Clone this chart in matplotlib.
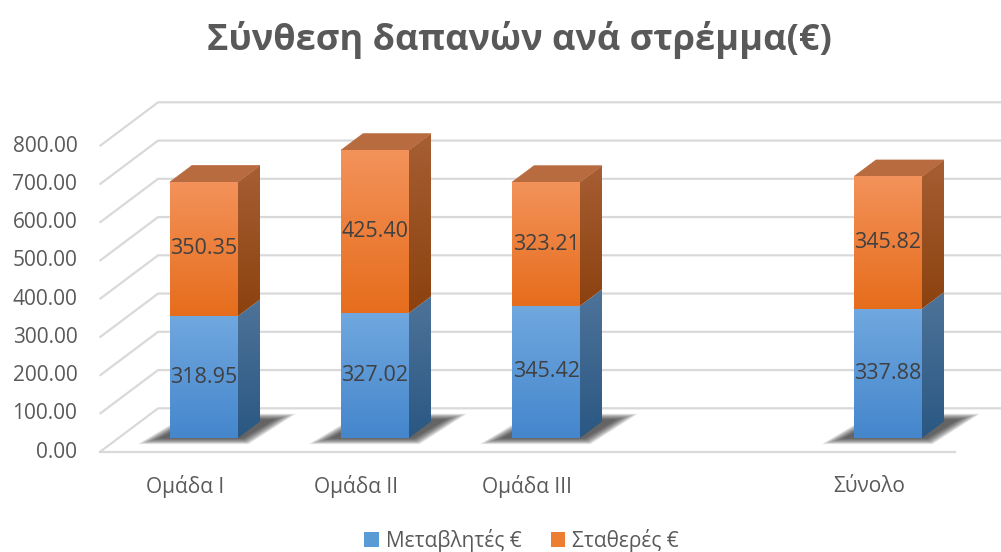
import numpy as np
import matplotlib
matplotlib.use("Agg")
import matplotlib.pyplot as plt
from matplotlib.patches import Polygon, Patch
from matplotlib.colors import LinearSegmentedColormap

# data
title = "Σύνθεση δαπανών ανά στρέμμα(€)"
categories = ["Ομάδα I", "Ομάδα II", "Ομάδα III", "", "Σύνολο"]
variable_costs = [318.95, 327.02, 345.42, np.nan, 337.88]
fixed_costs = [350.35, 425.40, 323.21, np.nan, 345.82]
series_names = ["Μεταβλητές €", "Σταθερές €"]
y_ticks = np.arange(0, 801, 100)

# layout (pixel geometry of the excel style oblique view)
W, H = 1001, 552
PX_CAT = 171.0      # pixels per category
X0_PX = 204.0       # pixel x of first bar centre (front face)
PX_VAL = 0.3825     # pixels per value unit
Y0_PX = 438.0       # pixel y of value 0 on bar front plane
DEPTH_DX = 22.0 / PX_CAT
DEPTH_DY = 16.5 / PX_VAL
D_FRONT = -0.86
D_BACK = 1.8
BAR_W = 68.0 / PX_CAT

FONT = ["Open Sans", "DejaVu Sans"]
TEXT_GREY = "#595959"
GRID = "#D9D9D9"

BLUE_FRONT = ("#70A8DF", "#4586CC")
BLUE_SIDE = ("#4E7399", "#2A5883")
ORANGE_FRONT = ("#F3925A", "#E66D1C")
ORANGE_SIDE = ("#A65E33", "#8C420F")
ORANGE_TOP = "#B96B40"

plt.rcParams["font.family"] = FONT


def proj(x, v, d):
    return x + d * DEPTH_DX, v + d * DEPTH_DY


def grad_fill(ax, patch, c_top, c_bot, z):
    patch.set_facecolor("none")
    patch.set_edgecolor("none")
    verts = patch.get_path().transformed(patch.get_patch_transform()).vertices
    xs, ys = verts[:, 0], verts[:, 1]
    cmap = LinearSegmentedColormap.from_list("g", [c_bot, c_top])
    im = ax.imshow(np.linspace(0, 1, 128).reshape(-1, 1), cmap=cmap, origin="lower",
                   extent=(xs.min(), xs.max(), ys.min(), ys.max()),
                   aspect="auto", interpolation="bilinear", zorder=z)
    im.set_clip_path(patch)


def face(ax, pts, c_top, c_bot, z):
    poly = Polygon(pts, closed=True)
    ax.add_patch(poly)
    grad_fill(ax, poly, c_top, c_bot, z)


fig = plt.figure(figsize=(W / 100, H / 100), dpi=100)
ax = fig.add_axes([0, 0, 1, 1])
ax.axis("off")

x_left, x_right = -0.5, len(categories) - 0.5

# back wall + floor grid
for v in y_ticks:
    p0 = proj(x_left, v, D_FRONT)
    p1 = proj(x_left, v, D_BACK)
    p2 = proj(x_right, v, D_BACK)
    ax.plot([p0[0], p1[0], p2[0]], [p0[1], p1[1], p2[1]], color=GRID, lw=1.6,
            zorder=1, solid_capstyle="butt")
f0 = proj(x_left, 0, D_FRONT)
f1 = proj(x_right, 0, D_FRONT)
ax.plot([f0[0], f1[0]], [f0[1], f1[1]], color=GRID, lw=1.6, zorder=1)

# tick labels
for v in y_ticks:
    ax.annotate(f"{v:.2f}", proj(x_left, v, D_FRONT), xytext=(-16, 0),
                textcoords="offset points", ha="right", va="center",
                fontsize=15, color=TEXT_GREY)

# category labels
for i, name in enumerate(categories):
    ax.annotate(name, proj(i, 0, D_FRONT), xytext=(0, -25),
                textcoords="offset points", ha="center", va="center",
                fontsize=15, color=TEXT_GREY)

x = np.arange(len(categories))
var = np.array(variable_costs)
fix = np.array(fixed_costs)

# soft shadows on floor
n_layers = 12
for xi in x[~np.isnan(var)]:
    xl, xr = xi - BAR_W / 2, xi + BAR_W / 2
    for k in range(n_layers):
        s = (n_layers - 1 - k) / (n_layers - 1)
        e = 0.08 * s
        ed = 0.35 * s
        pts = [proj(xl - 0.06 - e, 0, -0.02 - ed), proj(xr + 0.03 + e, 0, -0.02 - ed),
               proj(xr + 0.07 + e, 0, 1.12 + ed), proj(xl + 0.0 - e, 0, 1.12 + ed)]
        ax.add_patch(Polygon(pts, closed=True, facecolor="#262626", edgecolor="none",
                             alpha=0.095, zorder=2))

# bars
front_var = ax.bar(x, var, BAR_W, bottom=0, zorder=5)
front_fix = ax.bar(x, fix, BAR_W, bottom=var, zorder=5)
for i in x[~np.isnan(var)]:
    xr = i + BAR_W / 2
    xl = i - BAR_W / 2
    b0, b1, b2 = 0, var[i], var[i] + fix[i]
    face(ax, [proj(xr, b0, 0), proj(xr, b1, 0), proj(xr, b1, 1), proj(xr, b0, 1)],
         BLUE_SIDE[0], BLUE_SIDE[1], 4)
    face(ax, [proj(xr, b1, 0), proj(xr, b2, 0), proj(xr, b2, 1), proj(xr, b1, 1)],
         ORANGE_SIDE[0], ORANGE_SIDE[1], 4)
    top = Polygon([proj(xl, b2, 0), proj(xr, b2, 0), proj(xr, b2, 1), proj(xl, b2, 1)],
                  closed=True, facecolor=ORANGE_TOP, edgecolor=ORANGE_TOP, lw=0.5, zorder=4)
    ax.add_patch(top)
    grad_fill(ax, front_var[i], BLUE_FRONT[0], BLUE_FRONT[1], 5)
    grad_fill(ax, front_fix[i], ORANGE_FRONT[0], ORANGE_FRONT[1], 5)
    ax.text(i, b1 / 2, f"{var[i]:.2f}", ha="center", va="center",
            fontsize=15.5, color="#404040", zorder=7)
    ax.text(i, b1 + fix[i] / 2, f"{fix[i]:.2f}", ha="center", va="center",
            fontsize=15.5, color="#404040", zorder=7)

ax.set_xlim((0 - X0_PX) / PX_CAT, (W - X0_PX) / PX_CAT)
ax.set_ylim((Y0_PX - H) / PX_VAL, Y0_PX / PX_VAL)

fig.text(0.519, 1 - 40 / H, title, ha="center", va="center", fontsize=26,
         fontweight="bold", color=TEXT_GREY)

handles = [Patch(facecolor="#5B9BD5"), Patch(facecolor="#ED7D31")]
fig.legend(handles, series_names, loc="center", bbox_to_anchor=(0.521, 1 - 540 / H),
           ncol=2, frameon=False, fontsize=15, handlelength=0.7, handleheight=0.7,
           handletextpad=0.35, columnspacing=1.4, labelcolor=TEXT_GREY)

fig.savefig("out.png", dpi=100)
